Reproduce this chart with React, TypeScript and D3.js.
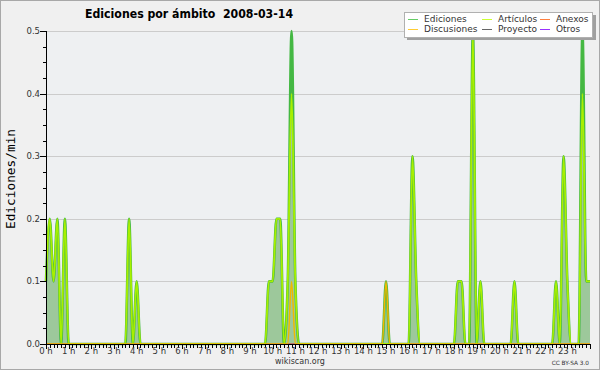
import React from 'react';
import * as d3 from 'd3';

// 10-minute bins, 0h00 .. 23h50, plus closing point at 24h
const ediciones = [
  0.1, 0.2, 0.1, 0.2, 0, 0.2, 0, 0, 0, 0, 0, 0,
  0, 0, 0, 0, 0, 0, 0, 0, 0, 0, 0.2, 0,
  0.1, 0, 0, 0, 0, 0, 0, 0, 0, 0, 0, 0,
  0, 0, 0, 0, 0, 0, 0, 0, 0, 0, 0, 0,
  0, 0, 0, 0, 0, 0, 0, 0, 0, 0, 0, 0.1,
  0.1, 0.2, 0.2, 0, 0.1, 0.5, 0.1, 0, 0, 0, 0, 0,
  0, 0, 0, 0, 0, 0, 0, 0, 0, 0, 0, 0,
  0, 0, 0, 0, 0, 0, 0.1, 0, 0, 0, 0, 0,
  0, 0.3, 0.1, 0, 0, 0, 0, 0, 0, 0, 0, 0,
  0, 0.1, 0.1, 0, 0, 0.5, 0, 0.1, 0, 0, 0, 0,
  0, 0, 0, 0, 0.1, 0, 0, 0, 0, 0, 0, 0,
  0, 0, 0, 0.1, 0, 0.3, 0.1, 0, 0, 0, 0.5, 0.1,
  0.1,
];
const articulos = [
  0.1, 0.2, 0.1, 0.2, 0, 0.2, 0, 0, 0, 0, 0, 0,
  0, 0, 0, 0, 0, 0, 0, 0, 0, 0, 0.2, 0,
  0.1, 0, 0, 0, 0, 0, 0, 0, 0, 0, 0, 0,
  0, 0, 0, 0, 0, 0, 0, 0, 0, 0, 0, 0,
  0, 0, 0, 0, 0, 0, 0, 0, 0, 0, 0, 0.1,
  0.1, 0.2, 0.2, 0, 0.1, 0.4, 0.1, 0, 0, 0, 0, 0,
  0, 0, 0, 0, 0, 0, 0, 0, 0, 0, 0, 0,
  0, 0, 0, 0, 0, 0, 0, 0, 0, 0, 0, 0,
  0, 0.3, 0.1, 0, 0, 0, 0, 0, 0, 0, 0, 0,
  0, 0.1, 0.1, 0, 0, 0.5, 0, 0.1, 0, 0, 0, 0,
  0, 0, 0, 0, 0.1, 0, 0, 0, 0, 0, 0, 0,
  0, 0, 0, 0.1, 0, 0.3, 0.1, 0, 0, 0, 0.4, 0.1,
  0.1,
];
const discusiones = [
  0, 0, 0, 0, 0, 0, 0, 0, 0, 0, 0, 0,
  0, 0, 0, 0, 0, 0, 0, 0, 0, 0, 0, 0,
  0, 0, 0, 0, 0, 0, 0, 0, 0, 0, 0, 0,
  0, 0, 0, 0, 0, 0, 0, 0, 0, 0, 0, 0,
  0, 0, 0, 0, 0, 0, 0, 0, 0, 0, 0, 0,
  0, 0, 0, 0, 0, 0.1, 0, 0, 0, 0, 0, 0,
  0, 0, 0, 0, 0, 0, 0, 0, 0, 0, 0, 0,
  0, 0, 0, 0, 0, 0, 0.1, 0, 0, 0, 0, 0,
  0, 0, 0, 0, 0, 0, 0, 0, 0, 0, 0, 0,
  0, 0, 0, 0, 0, 0, 0, 0, 0, 0, 0, 0,
  0, 0, 0, 0, 0, 0, 0, 0, 0, 0, 0, 0,
  0, 0, 0, 0, 0, 0, 0, 0, 0, 0, 0, 0,
  0,
];
const zeros = [
  0, 0, 0, 0, 0, 0, 0, 0, 0, 0, 0, 0,
  0, 0, 0, 0, 0, 0, 0, 0, 0, 0, 0, 0,
  0, 0, 0, 0, 0, 0, 0, 0, 0, 0, 0, 0,
  0, 0, 0, 0, 0, 0, 0, 0, 0, 0, 0, 0,
  0, 0, 0, 0, 0, 0, 0, 0, 0, 0, 0, 0,
  0, 0, 0, 0, 0, 0, 0, 0, 0, 0, 0, 0,
  0, 0, 0, 0, 0, 0, 0, 0, 0, 0, 0, 0,
  0, 0, 0, 0, 0, 0, 0, 0, 0, 0, 0, 0,
  0, 0, 0, 0, 0, 0, 0, 0, 0, 0, 0, 0,
  0, 0, 0, 0, 0, 0, 0, 0, 0, 0, 0, 0,
  0, 0, 0, 0, 0, 0, 0, 0, 0, 0, 0, 0,
  0, 0, 0, 0, 0, 0, 0, 0, 0, 0, 0, 0,
  0,
];
const anexos = zeros;
const proyecto = zeros;
const otros = zeros;

const hourLabels = [
  '0 h', '1 h', '2 h', '3 h', '4 h', '5 h', '6 h', '7 h', '8 h', '9 h', '10 h', '11 h',
  '12 h', '13 h', '14 h', '15 h', '16 h', '17 h', '18 h', '19 h', '20 h', '21 h', '22 h', '23 h',
];
const yTicks = [0, 0.1, 0.2, 0.3, 0.4, 0.5];
const yTickLabels = ['0.0', '0.1', '0.2', '0.3', '0.4', '0.5'];

const legendItems = [
  { name: 'Ediciones', color: '#66cc66', col: 0, row: 0 },
  { name: 'Artículos', color: '#ccff33', col: 1, row: 0 },
  { name: 'Anexos', color: '#ff8040', col: 2, row: 0 },
  { name: 'Discusiones', color: '#ffcc33', col: 0, row: 1 },
  { name: 'Proyecto', color: '#666666', col: 1, row: 1 },
  { name: 'Otros', color: '#9933ff', col: 2, row: 1 },
];

const FONT = '"DejaVu Sans", Verdana, sans-serif';

export default function App() {
  const W = 600, H = 370;
  const left = 46, right = 590, top = 31, bottom = 344;
  const x = d3.scaleLinear().domain([0, 144]).range([left, right]);
  const y = d3.scaleLinear().domain([0, 0.5]).range([bottom, top]);

  const area = d3.area<number>()
    .x((_, i) => x(i))
    .y0(y(0))
    .y1((d) => y(d))
    .curve(d3.curveMonotoneX);
  const line = d3.line<number>()
    .x((_, i) => x(i))
    .y((d) => y(d))
    .curve(d3.curveMonotoneX);

  const series = [
    { data: otros, color: '#9933ff', w: 1 },
    { data: proyecto, color: '#555555', w: 1 },
    { data: anexos, color: '#ff8040', w: 1.2 },
    { data: ediciones, color: '#44b844', w: 2.6 },
    { data: articulos, color: '#a8f000', w: 1.8 },
    { data: discusiones, color: '#f0b800', w: 1.5 },
  ];

  const minorX = d3.range(0, 145);
  const minorY = d3.range(0, 0.5001, 0.025);
  const colX = [408, 482, 540];
  const rowY = [19, 29];

  return (
    <svg width={W} height={H} style={{ position: 'absolute', left: 0, top: 0 }}>
      <rect x={0.5} y={0.5} width={W - 1} height={H - 1} fill="#f0f0f0" stroke="#a8a8a8" />
      <rect x={left} y={top} width={right - left} height={bottom - top} fill="#eef0f2" />
      {yTicks.slice(1).map((t) => (
        <line key={t} x1={left} x2={right} y1={Math.round(y(t)) + 0.5} y2={Math.round(y(t)) + 0.5} stroke="#cccccc" />
      ))}
      <path d={area(ediciones) || ''} fill="#9dc89b" />
      {series.map((s, k) => (
        <path key={k} d={line(s.data) || ''} fill="none" stroke={s.color} strokeWidth={s.w} />
      ))}
      {/* axes */}
      <line x1={left + 0.5} x2={left + 0.5} y1={top} y2={bottom + 1} stroke="#000" />
      <line x1={left} x2={right} y1={bottom + 0.5} y2={bottom + 0.5} stroke="#000" />
      {minorY.map((t, i) => {
        const major = i % 4 === 0;
        const yy = Math.round(y(t)) + 0.5;
        return <line key={'my' + i} x1={major ? left - 6 : left - 3} x2={left} y1={yy} y2={yy} stroke="#000" />;
      })}
      {yTicks.map((t, i) => (
        <text key={'yl' + i} x={40} y={y(t) + 3} textAnchor="end" fontFamily={FONT} fontSize={8.5} fill="#333">
          {yTickLabels[i]}
        </text>
      ))}
      {minorX.map((b) => {
        const xx = Math.round(x(b)) + 0.5;
        const major = b % 6 === 0;
        return <line key={'mx' + b} x1={xx} x2={xx} y1={bottom} y2={bottom + (major ? 5 : 4)} stroke="#000" />;
      })}
      {hourLabels.map((h, i) => (
        <text key={'xl' + i} x={x(i * 6)} y={353.5} textAnchor="middle" fontFamily={FONT} fontSize={8.5} fill="#333">
          {h}
        </text>
      ))}
      <text transform={`translate(15,179) rotate(-90)`} textAnchor="middle" fontFamily='"DejaVu Sans Mono", monospace' fontSize={12.8} fill="#000">
        Ediciones/min
      </text>
      <text x={85} y={18.3} fontFamily='"DejaVu Sans Condensed", "DejaVu Sans", sans-serif' fontStretch="condensed" fontWeight="bold" fontSize={12.2} fill="#000" style={{ whiteSpace: 'pre' }}>
        {'Ediciones por ámbito  2008-03-14'}
      </text>
      {/* legend */}
      <rect x={407} y={15} width={189} height={25} fill="#a0a0a0" />
      <rect x={404.5} y={12.5} width={188} height={25} fill="#ffffff" stroke="#b0b0b0" />
      {legendItems.map((it) => (
        <g key={it.name}>
          <line x1={colX[it.col]} x2={colX[it.col] + 10} y1={rowY[it.row] + 0.5} y2={rowY[it.row] + 0.5} stroke={it.color} />
          <text x={colX[it.col] + 16} y={rowY[it.row] + 3.3} fontFamily={FONT} fontSize={9} fill="#333">
            {it.name}
          </text>
        </g>
      ))}
      <text x={300} y={364} textAnchor="middle" fontFamily={FONT} fontSize={8} fill="#333">wikiscan.org</text>
      <text x={589} y={364.5} textAnchor="end" fontFamily={FONT} fontSize={5.8} fill="#333">CC BY-SA 3.0</text>
    </svg>
  );
}
